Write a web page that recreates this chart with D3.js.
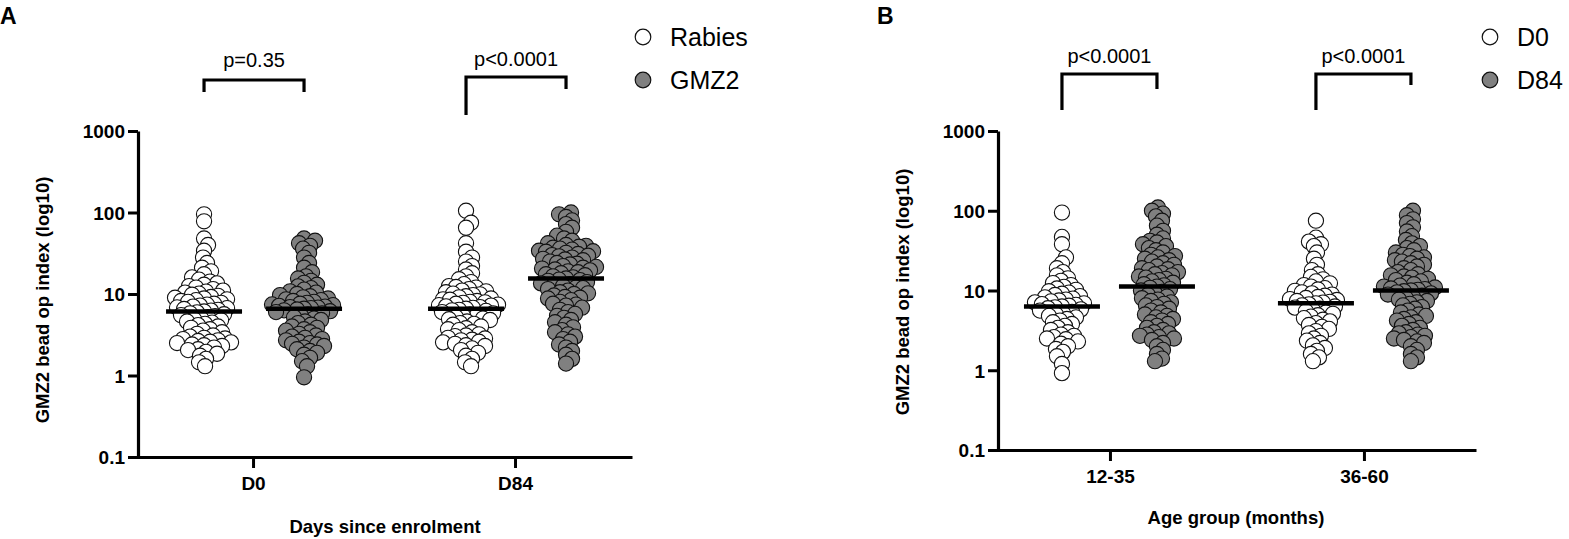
<!DOCTYPE html>
<html>
<head>
<meta charset="utf-8">
<script src="https://cdn.jsdelivr.net/npm/d3@7/dist/d3.min.js"></script>
<style>
  body { margin: 0; background: #fff; }
  text { font-family: "Liberation Sans", Arial, Helvetica, sans-serif; fill: #000; }
</style>
</head>
<body>
<svg id="chart" width="1569" height="539"></svg>
<script>
// ---------------- DATA ----------------
const yTicks = [0.1, 1, 10, 100, 1000];

// Panel A
const categoriesA = ["D0", "D84"];
const seriesA = ["Rabies", "GMZ2"];
const rabiesD0 = [95, 78, 48, 40, 34, 28, 24, 21, 19, 17.5, 16,
  15, 14.2, 13.5, 13, 12.5, 12, 11.5, 11, 10.7, 10.4, 10.1, 9.8, 9.5, 9.2, 9, 8.8, 8.6, 8.4, 8.2, 8,
  7.8, 7.6, 7.4, 7.2, 7, 6.85, 6.7, 6.55, 6.4, 6.25, 6.1,
  5.95, 5.8, 5.65, 5.5, 5.35, 5.2, 5.05, 4.9, 4.75, 4.6, 4.45, 4.3, 4.15, 4, 3.85, 3.7, 3.55, 3.4,
  3.25, 3.1, 3, 2.9, 2.85, 2.8, 2.7, 2.65, 2.6, 2.55, 2.5, 2.4, 2.35, 2.3, 2.2, 2.1, 2.05, 1.95,
  1.85, 1.75, 1.6, 1.45, 1.3];
const gmz2D0 = [48, 45, 42, 39, 36, 32, 28, 24, 21, 18.5, 16.5,
  15.5, 14.5, 13.7, 13, 12.4, 11.8, 11.3, 10.8, 10.4, 10, 9.7, 9.4, 9.1, 8.8, 8.6, 8.4, 8.2, 8, 7.8,
  7.6, 7.45, 7.3, 7.15, 7, 6.9, 6.8, 6.7, 6.6,
  6.45, 6.3, 6.15, 6, 5.8, 5.6, 5.4, 5.2, 5, 4.8, 4.6, 4.4, 4.2, 4, 3.85, 3.7, 3.55, 3.4, 3.25, 3.1,
  3, 2.9, 2.8, 2.7, 2.6, 2.5, 2.45, 2.4, 2.3, 2.2, 2.1, 2, 1.9, 1.8, 1.65, 1.5, 1.3, 0.95];
const rabiesD84 = [105, 75, 65, 42, 33, 28, 25, 22, 20, 18, 16.5,
  15.2, 14, 13.2, 12.5, 12.2, 12, 11.5, 11, 10.8, 10.5, 10.1, 9.9, 9.7, 9.4, 9.1, 8.8, 8.6, 8.5, 8.2,
  8, 7.9, 7.8, 7.6, 7.4, 7.3, 7.2, 7.05, 6.9, 6.75, 6.6,
  6.4, 6.3, 6.2, 6, 5.8, 5.6, 5.5, 5.4, 5.2, 5, 4.9, 4.8, 4.6, 4.4, 4.3, 4.2, 4, 3.8, 3.7, 3.6, 3.4,
  3.2, 3.1, 3.05, 2.9, 2.85, 2.75, 2.7, 2.6, 2.55, 2.45, 2.35, 2.3, 2.15, 2.05, 1.9, 1.75, 1.6,
  1.45, 1.3];
const gmz2D84 = [100, 95, 88, 80, 72, 65, 58, 52, 48, 45, 42, 40, 39, 38, 37, 36, 35, 34, 33.5, 33, 32, 31,
  30, 29.5, 29, 28, 27, 26.5, 26, 25, 24, 23.5, 23, 22, 21.5, 21, 20.5, 20, 19.5, 19, 18.5, 18, 17.5,
  17, 16.5, 16, 15.5,
  15, 14.8, 14.5, 14, 13.5, 13.2, 13, 12.5, 12, 11.8, 11.5, 11, 10.5, 10.2, 10, 9.6, 9.2, 9, 8.8,
  8.4, 8, 7.6, 7.4, 7.2, 6.8, 6.4, 6, 5.7, 5.4, 5.1, 4.8, 4.5, 4.2, 3.9, 3.6, 3.4, 3.2, 3.0, 2.8,
  2.6, 2.4, 2.2, 2.0, 1.8, 1.6, 1.4];
const pLabelsA = ["p=0.35", "p<0.0001"];

// Panel B
const categoriesB = ["12-35", "36-60"];
const seriesB = ["D0", "D84"];
const age1235D0 = [95, 47, 38, 26, 22, 19, 17, 15.5, 14.2,
  13.2, 12.4, 11.7, 11.1, 10.6, 10.2, 9.8, 9.4, 9.1, 8.8, 8.5, 8.2, 7.9, 7.7, 7.5, 7.3, 7.1, 6.9,
  6.75, 6.6, 6.45, 6.3,
  6.15, 6, 5.8, 5.6, 5.4, 5.2, 5, 4.8, 4.6, 4.4, 4.2, 4, 3.8, 3.6, 3.4, 3.2, 3, 2.8, 2.7, 2.6, 2.5,
  2.45, 2.3, 2.15, 2, 1.85, 1.7, 1.5, 1.2, 0.92];
const age1235D84 = [110, 100, 92, 85, 75, 65, 56, 50, 45, 42, 40, 38, 36, 34, 32, 30, 28, 27, 26, 25,
  24, 23, 22, 21, 20, 19, 18.5, 18, 17, 16.5, 16, 15.5, 15, 14.5, 14, 13.5, 13, 12.5, 12, 11.6, 11.2,
  10.8, 10.4, 10, 9.6, 9.2, 8.8, 8.4, 8, 7.7, 7.4, 7.1, 6.8, 6.5, 6.2, 5.9, 5.6, 5.3, 5, 4.8, 4.6,
  4.4, 4.2, 4, 3.8, 3.6, 3.4, 3.2, 3, 2.9, 2.8, 2.7, 2.6, 2.5, 2.4, 2.2, 2, 1.8, 1.6, 1.4, 1.3];
const age3660D0 = [75, 46, 41, 38, 36, 30, 25, 21, 18, 16,
  14.8, 13.8, 13, 12.3, 11.7, 11.2, 10.7, 10.3, 9.9, 9.5, 9.2, 8.9, 8.6, 8.3, 8.05, 7.8, 7.6, 7.4,
  7.2, 7.05, 6.9,
  6.7, 6.5, 6.3, 6.1, 5.9, 5.7, 5.5, 5.3, 5.1, 4.9, 4.7, 4.5, 4.3, 4.1, 3.9, 3.7, 3.5, 3.3, 3.1,
  2.9, 2.7, 2.5, 2.35, 2.2, 2.05, 1.9, 1.75, 1.6, 1.45, 1.3];
const age3660D84 = [100, 88, 78, 70, 62, 55, 48, 43, 39, 36, 34, 32, 30, 28, 27, 26, 25, 24, 23, 22,
  21, 20, 19, 18, 17, 16, 15.5, 15, 14.5, 14, 13.5, 13, 12.5, 12, 11.5, 11.2, 10.9, 10.6, 10.4, 10.2, 10,
  9.8, 9.5, 9.2, 8.9, 8.6, 8.3, 8, 7.7, 7.4, 7.1, 6.8, 6.5, 6.2, 5.9, 5.6, 5.3, 5, 4.8, 4.6, 4.4,
  4.2, 4, 3.8, 3.6, 3.4, 3.2, 3, 2.9, 2.8, 2.7, 2.6, 2.5, 2.4, 2.3, 2.2, 2, 1.8, 1.6, 1.45, 1.3];
const pLabelsB = ["p<0.0001", "p<0.0001"];

// ---------------- DRAW ----------------
const svg = d3.select("#chart");
const FONT = '"Liberation Sans", Arial, Helvetica, sans-serif';
const fills = ["#ffffff", "#808080"];
const R = 7.6;

function swarm(vals, y, minD, maxOff) {
  const pts = vals.map(v => ({ v, y: y(v) }));
  const med = d3.median(vals);
  const order = pts.slice().sort((a, b) => Math.abs(a.y - y(med)) - Math.abs(b.y - y(med)));
  const placed = [];
  for (const p of order) {
    let chosen = null, bestOff = 0, bestScore = -1;
    for (let k = 0; k <= maxOff * 2; k++) {
      const off = k === 0 ? 0 : (k % 2 ? Math.ceil(k / 2) : -k / 2);
      let minDist = Infinity;
      for (const q of placed) {
        const dx = q.x - off, dy = q.y - p.y;
        const d = Math.sqrt(dx * dx + dy * dy);
        if (d < minDist) minDist = d;
      }
      if (minDist >= minD) { chosen = off; break; }
      if (minDist > bestScore) { bestScore = minDist; bestOff = off; }
    }
    p.x = chosen === null ? bestOff : chosen;
    placed.push(p);
  }
  return pts;
}

function panel(cfg) {
  const g = svg.append("g");
  const y = d3.scaleLog().domain([0.1, 1000]).range([cfg.yBottom, cfg.yTop]);
  const x = d3.scalePoint().domain(cfg.categories).range([cfg.axisX - 1, cfg.xEnd])
    .padding(cfg.padding).align(cfg.align);
  const off = d3.scalePoint().domain(cfg.series).range(cfg.offRange);

  // points
  cfg.categories.forEach((c, ci) => {
    cfg.series.forEach((s, si) => {
      const vals = cfg.data[ci][si];
      const cx = x(c) + off(s);
      const pts = swarm(vals, y, cfg.minD, 32);
      g.append("g").selectAll("circle").data(pts).join("circle")
        .attr("cx", d => cx + d.x)
        .attr("cy", d => d.y)
        .attr("r", R)
        .attr("fill", fills[si])
        .attr("stroke", "#111")
        .attr("stroke-width", 1.1);
      // median
      const m = d3.median(vals);
      g.append("line")
        .attr("x1", cx - 38).attr("x2", cx + 38)
        .attr("y1", y(m)).attr("y2", y(m))
        .attr("stroke", "#000").attr("stroke-width", 4.5);
    });
  });

  // axes
  const yAxis = d3.axisLeft(y).tickValues(yTicks).tickFormat(d => String(d))
    .tickSize(10).tickSizeOuter(0).tickPadding(3);
  const ya = g.append("g").attr("transform", `translate(${cfg.axisX},0)`).call(yAxis);
  const xAxis = d3.axisBottom(x).tickSize(11).tickSizeOuter(0).tickPadding(9);
  const xa = g.append("g").attr("transform", `translate(0,${cfg.yBottom})`).call(xAxis);
  [ya, xa].forEach(a => {
    a.select(".domain").attr("stroke", "#000").attr("stroke-width", 3.2);
    a.selectAll(".tick line").attr("stroke", "#000").attr("stroke-width", 3);
    a.selectAll(".tick text").attr("font-family", FONT).attr("font-size", 19)
      .attr("font-weight", "bold").attr("fill", "#000");
  });
  ya.selectAll(".tick text").attr("dy", "0.36em");

  // axis titles
  g.append("text").attr("transform", `translate(${cfg.yTitleX},${cfg.yTitleY}) rotate(-90)`)
    .attr("text-anchor", "middle").attr("font-size", 18.5).attr("font-weight", "bold")
    .text("GMZ2 bead op index (log10)");
  g.append("text").attr("x", cfg.xTitleX).attr("y", cfg.xTitleY)
    .attr("text-anchor", "middle").attr("font-size", 18.5).attr("font-weight", "bold")
    .text(cfg.xTitle);

  // brackets
  cfg.categories.forEach((c, ci) => {
    const b = cfg.brackets[ci];
    const x1 = x(c) + off(cfg.series[0]);
    const x2 = x(c) + off(cfg.series[1]);
    g.append("path")
      .attr("d", `M${x1},${b.top + b.left} V${b.top} H${x2} V${b.top + b.right}`)
      .attr("fill", "none").attr("stroke", "#000").attr("stroke-width", 3.2);
    g.append("text").attr("x", (x1 + x2) / 2).attr("y", b.textY)
      .attr("text-anchor", "middle").attr("font-size", 20).text(cfg.pLabels[ci]);
  });

  // legend
  cfg.series.forEach((s, si) => {
    const ly = cfg.legendY[si];
    g.append("circle").attr("cx", cfg.legendX).attr("cy", ly).attr("r", 7.8)
      .attr("fill", fills[si]).attr("stroke", "#111").attr("stroke-width", 1.2);
    g.append("text").attr("x", cfg.legendX + 27).attr("y", ly + 8.5)
      .attr("font-size", 25).text(s);
  });

  // panel letter
  g.append("text").attr("x", cfg.letterX).attr("y", 24).attr("font-size", 23)
    .attr("font-weight", "bold").text(cfg.letter);
}

panel({
  letter: "A", letterX: 0,
  categories: categoriesA, series: seriesA,
  data: [[rabiesD0, gmz2D0], [rabiesD84, gmz2D84]],
  pLabels: pLabelsA,
  yTop: 131, yBottom: 457, axisX: 138, xEnd: 632, padding: 0.4447, align: 0.498,
  offRange: [-49, 51], minD: 6.7,
  yTitleX: 49, yTitleY: 300, xTitleX: 385, xTitleY: 533, xTitle: "Days since enrolment",
  brackets: [{ top: 80, left: 12, right: 12, textY: 67 }, { top: 77, left: 38, right: 12, textY: 66 }],
  legendX: 643, legendY: [37, 80]
});

panel({
  letter: "B", letterX: 877,
  categories: categoriesB, series: seriesB,
  data: [[age1235D0, age1235D84], [age3660D0, age3660D84]],
  pLabels: pLabelsB,
  yTop: 131, yBottom: 450, axisX: 998, xEnd: 1476, padding: 0.443, align: 0.502,
  offRange: [-48, 47], minD: 6.7,
  yTitleX: 909, yTitleY: 292, xTitleX: 1236, xTitleY: 524, xTitle: "Age group (months)",
  brackets: [{ top: 74, left: 36, right: 15, textY: 63 }, { top: 74, left: 36, right: 11, textY: 63 }],
  legendX: 1490, legendY: [37, 80]
});
</script>
</body>
</html>
